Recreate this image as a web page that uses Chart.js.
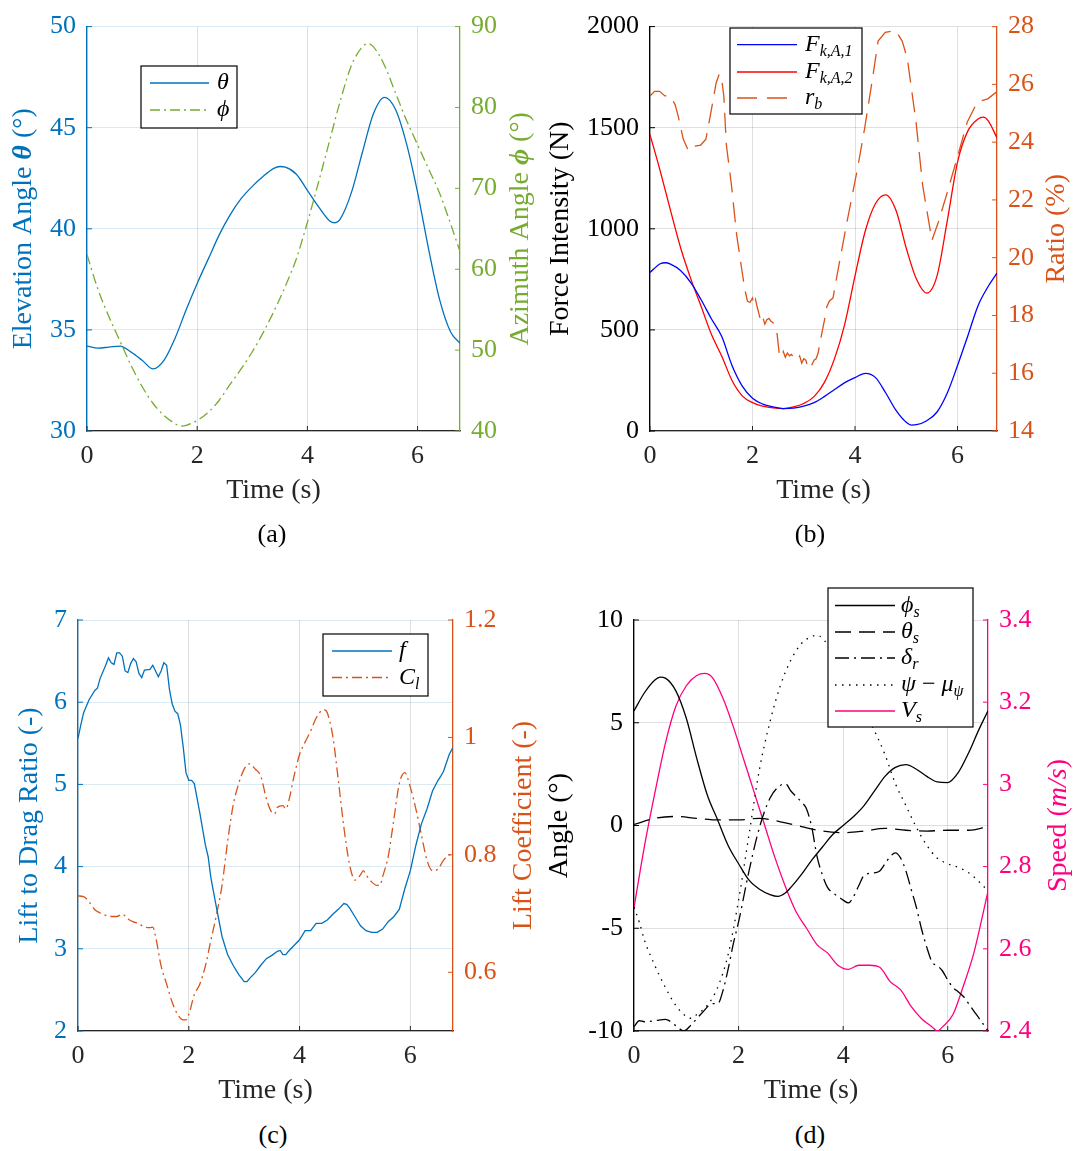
<!DOCTYPE html>
<html lang="en">
<head>
<meta charset="UTF-8">
<title>Flight figure</title>
<script src="https://cdn.jsdelivr.net/npm/chart.js@4.4.0/dist/chart.umd.min.js"></script>
<style>
  body { margin: 0; background: #fff; width: 1075px; height: 1151px; position: relative; overflow: hidden; font-family: "Liberation Serif", serif; }
  .panel { position: absolute; }
  .cap { position: absolute; font-size: 26px; color: #000; transform: translate(-50%, -50%); white-space: nowrap; }
</style>
</head>
<body>
<div class="panel" style="left:0;top:0"><canvas id="cA" width="545" height="520"></canvas></div>
<div class="panel" style="left:537px;top:0"><canvas id="cB" width="538" height="520"></canvas></div>
<div class="panel" style="left:0;top:580px"><canvas id="cC" width="545" height="540"></canvas></div>
<div class="panel" style="left:537px;top:580px"><canvas id="cD" width="538" height="540"></canvas></div>
<div class="cap" style="left:272px;top:534px">(a)</div>
<div class="cap" style="left:810px;top:534px">(b)</div>
<div class="cap" style="left:273px;top:1135px">(c)</div>
<div class="cap" style="left:810px;top:1135px">(d)</div>

<script>
// ---- (a) elevation / azimuth ----
var tTheta = [0, 0.2, 0.4, 0.6, 0.8, 1.0, 1.2, 1.4, 1.6, 1.8, 2.0, 2.2, 2.4, 2.6, 2.8, 3.0, 3.2, 3.4, 3.5, 3.6, 3.8, 4.0, 4.2, 4.4, 4.5, 4.6, 4.8, 5.0, 5.2, 5.4, 5.6, 5.8, 6.0, 6.2, 6.4, 6.6, 6.77];
var theta = [34.2, 34.1, 34.15, 34.2, 33.9, 33.5, 33.07, 33.5, 34.6, 36.0, 37.3, 38.5, 39.7, 40.7, 41.5, 42.1, 42.6, 43.0, 43.08, 43.05, 42.7, 41.9, 41.1, 40.4, 40.3, 40.5, 41.8, 43.8, 45.7, 46.5, 45.9, 44.2, 41.8, 39.0, 36.5, 34.9, 34.35];
var tPhi = [0, 0.2, 0.4, 0.6, 0.8, 1.0, 1.2, 1.4, 1.6, 1.7, 1.8, 2.0, 2.2, 2.4, 2.6, 2.8, 3.0, 3.2, 3.4, 3.6, 3.8, 4.0, 4.2, 4.4, 4.6, 4.8, 5.0, 5.1, 5.2, 5.4, 5.6, 5.8, 6.0, 6.2, 6.4, 6.6, 6.77];
var phi = [61.8, 57.5, 54.1, 51.1, 48.1, 45.5, 43.4, 41.9, 40.9, 40.6, 40.7, 41.3, 42.3, 43.8, 45.8, 47.7, 49.8, 52.2, 54.9, 57.9, 61.3, 65.8, 70.7, 75.8, 80.9, 85.2, 87.5, 87.9, 87.5, 85.2, 81.8, 78.4, 75.4, 72.4, 69.4, 65.6, 62.2];

// ---- (b) forces and ratio ----
var tF1 = [0, 0.2, 0.3, 0.4, 0.6, 0.8, 1.0, 1.2, 1.4, 1.6, 1.8, 2.0, 2.2, 2.4, 2.6, 2.8, 3.0, 3.2, 3.4, 3.6, 3.8, 4.0, 4.2, 4.4, 4.6, 4.8, 5.0, 5.1, 5.2, 5.4, 5.6, 5.8, 6.0, 6.2, 6.4, 6.6, 6.77];
var force1 = [784, 827, 832, 825, 793, 733, 648, 554, 467, 324, 222, 162, 133, 119, 111, 113, 123, 140, 170, 205, 239, 264, 285, 264, 188, 102, 43, 29, 31, 51, 94, 188, 324, 470, 620, 716, 781];
var tF2 = [0, 0.2, 0.4, 0.6, 0.8, 1.0, 1.2, 1.4, 1.6, 1.8, 2.0, 2.2, 2.4, 2.6, 2.8, 3.0, 3.2, 3.4, 3.6, 3.8, 4.0, 4.2, 4.4, 4.6, 4.8, 5.0, 5.2, 5.4, 5.6, 5.8, 6.0, 6.2, 6.4, 6.5, 6.6, 6.77];
var force2 = [1466, 1285, 1091, 904, 750, 614, 477, 370, 250, 174, 140, 123, 114, 111, 119, 136, 170, 239, 358, 529, 767, 989, 1125, 1168, 1091, 904, 750, 682, 767, 1040, 1330, 1483, 1543, 1552, 1534, 1449];
var tRb = [0, 0.09, 0.19, 0.29, 0.39, 0.49, 0.55, 0.65, 0.75, 0.85, 0.99, 1.09, 1.19, 1.29, 1.35, 1.39, 1.44, 1.49, 1.59, 1.69, 1.79, 1.85, 1.90, 1.95, 2.00, 2.03, 2.06, 2.09, 2.12, 2.16, 2.20, 2.24, 2.28, 2.32, 2.36, 2.40, 2.44, 2.48, 2.52, 2.56, 2.60, 2.64, 2.68, 2.72, 2.76, 2.80, 2.84, 2.88, 2.92, 2.96, 3.00, 3.04, 3.08, 3.12, 3.16, 3.20, 3.24, 3.28, 3.32, 3.40, 3.45, 3.50, 3.57, 3.65, 3.85, 4.05, 4.19, 4.35, 4.45, 4.59, 4.79, 4.92, 5.02, 5.19, 5.32, 5.50, 5.62, 5.79, 6.00, 6.19, 6.39, 6.59, 6.77];
var ratioB = [25.6, 25.76, 25.76, 25.6, 25.6, 25.3, 24.9, 24.1, 23.7, 23.85, 23.9, 24.1, 25.05, 26.05, 26.35, 26.3, 25.6, 23.9, 22.5, 20.8, 19.6, 18.9, 18.5, 18.45, 18.6, 18.35, 18.55, 18.3, 18.1, 17.8, 17.95, 17.7, 17.85, 17.9, 17.8, 17.75, 17.6, 17.35, 16.7, 16.55, 16.75, 16.55, 16.7, 16.6, 16.65, 16.55, 16.6, 16.5, 16.6, 16.35, 16.5, 16.45, 16.2, 16.15, 16.3, 16.45, 16.5, 16.7, 17.1, 17.8, 18.3, 18.5, 18.6, 19.4, 21.3, 23.1, 24.5, 26.3, 27.5, 27.8, 27.87, 27.5, 26.9, 24.7, 22.5, 20.6, 21.2, 22.2, 23.5, 24.7, 25.4, 25.5, 25.75];

// ---- (c) lift to drag, lift coefficient ----
var tF = [0, 0.05, 0.1, 0.2, 0.3, 0.35, 0.4, 0.5, 0.55, 0.6, 0.65, 0.7, 0.75, 0.8, 0.85, 0.9, 0.95, 1.0, 1.05, 1.1, 1.15, 1.2, 1.3, 1.35, 1.4, 1.45, 1.5, 1.55, 1.6, 1.65, 1.7, 1.75, 1.8, 1.85, 1.9, 1.95, 2.0, 2.05, 2.1, 2.2, 2.3, 2.35, 2.4, 2.5, 2.6, 2.7, 2.8, 2.9, 3.0, 3.05, 3.1, 3.2, 3.3, 3.4, 3.5, 3.6, 3.65, 3.7, 3.75, 3.8, 3.9, 4.0, 4.1, 4.2, 4.3, 4.4, 4.5, 4.6, 4.7, 4.8, 4.85, 4.9, 5.0, 5.1, 5.2, 5.3, 5.4, 5.5, 5.6, 5.7, 5.8, 5.9, 6.0, 6.1, 6.2, 6.3, 6.4, 6.5, 6.55, 6.6, 6.7, 6.77];
var liftDrag = [5.56, 5.72, 5.87, 6.03, 6.14, 6.17, 6.29, 6.45, 6.54, 6.48, 6.46, 6.60, 6.60, 6.56, 6.38, 6.36, 6.47, 6.53, 6.49, 6.35, 6.30, 6.39, 6.40, 6.45, 6.38, 6.31, 6.38, 6.48, 6.45, 6.16, 5.98, 5.89, 5.86, 5.72, 5.45, 5.14, 5.05, 5.05, 5.01, 4.65, 4.26, 4.12, 3.86, 3.50, 3.15, 2.93, 2.80, 2.69, 2.60, 2.60, 2.64, 2.71, 2.80, 2.88, 2.92, 2.97, 2.98, 2.93, 2.93, 2.97, 3.04, 3.11, 3.22, 3.22, 3.31, 3.31, 3.35, 3.42, 3.48, 3.55, 3.54, 3.50, 3.39, 3.28, 3.22, 3.20, 3.20, 3.24, 3.33, 3.39, 3.48, 3.73, 3.95, 4.26, 4.52, 4.70, 4.92, 5.05, 5.10, 5.16, 5.36, 5.45];
var tCl = [0, 0.1, 0.2, 0.3, 0.4, 0.5, 0.6, 0.7, 0.8, 0.9, 1.0, 1.1, 1.2, 1.3, 1.35, 1.4, 1.5, 1.6, 1.7, 1.8, 1.9, 1.95, 2.0, 2.1, 2.2, 2.3, 2.4, 2.5, 2.6, 2.7, 2.8, 2.9, 3.0, 3.1, 3.2, 3.3, 3.4, 3.5, 3.55, 3.6, 3.7, 3.75, 3.8, 3.9, 4.0, 4.1, 4.2, 4.3, 4.4, 4.45, 4.5, 4.6, 4.7, 4.8, 4.9, 5.0, 5.1, 5.15, 5.2, 5.3, 5.4, 5.45, 5.5, 5.6, 5.7, 5.8, 5.9, 6.0, 6.1, 6.2, 6.3, 6.4, 6.5, 6.6, 6.7, 6.77];
var liftCoef = [0.730, 0.729, 0.720, 0.707, 0.701, 0.697, 0.695, 0.695, 0.699, 0.691, 0.686, 0.683, 0.677, 0.676, 0.677, 0.661, 0.611, 0.580, 0.549, 0.528, 0.519, 0.519, 0.528, 0.562, 0.580, 0.611, 0.655, 0.698, 0.748, 0.822, 0.884, 0.921, 0.946, 0.955, 0.946, 0.934, 0.896, 0.872, 0.870, 0.881, 0.884, 0.878, 0.890, 0.934, 0.971, 0.992, 1.011, 1.033, 1.046, 1.047, 1.042, 1.002, 0.927, 0.847, 0.785, 0.757, 0.766, 0.773, 0.766, 0.754, 0.748, 0.748, 0.763, 0.797, 0.859, 0.921, 0.940, 0.915, 0.878, 0.834, 0.791, 0.773, 0.776, 0.791, 0.800, 0.802];

// ---- (d) angles and speed ----
var tPhiS = [0, 0.2, 0.4, 0.5, 0.6, 0.8, 1.0, 1.2, 1.4, 1.6, 1.8, 2.0, 2.2, 2.4, 2.6, 2.75, 2.9, 3.0, 3.2, 3.4, 3.6, 3.8, 4.0, 4.2, 4.4, 4.6, 4.8, 5.0, 5.2, 5.4, 5.6, 5.8, 6.0, 6.2, 6.4, 6.6, 6.77];
var phiS = [5.58, 6.46, 7.08, 7.22, 7.17, 6.55, 5.22, 3.27, 1.50, 0.27, -0.97, -1.86, -2.66, -3.10, -3.36, -3.45, -3.27, -3.01, -2.39, -1.68, -1.06, -0.44, 0.0, 0.44, 0.97, 1.68, 2.39, 2.83, 2.96, 2.74, 2.39, 2.12, 2.09, 2.57, 3.54, 4.69, 5.58];
var tThetaS = [0, 0.4, 0.8, 1.2, 1.6, 2.0, 2.4, 2.8, 3.2, 3.6, 4.0, 4.4, 4.8, 5.2, 5.6, 6.0, 6.4, 6.77];
var thetaS = [0.05, 0.35, 0.44, 0.35, 0.27, 0.27, 0.35, 0.18, -0.05, -0.27, -0.35, -0.27, -0.14, -0.23, -0.27, -0.23, -0.23, -0.05];
var tDelta = [0, 0.1, 0.2, 0.4, 0.6, 0.8, 0.95, 1.1, 1.3, 1.5, 1.6, 1.7, 1.8, 1.9, 2.0, 2.2, 2.4, 2.6, 2.8, 2.9, 3.0, 3.1, 3.2, 3.3, 3.4, 3.5, 3.6, 3.7, 3.8, 3.9, 4.0, 4.1, 4.2, 4.3, 4.4, 4.6, 4.7, 4.8, 4.9, 5.0, 5.1, 5.2, 5.3, 5.4, 5.5, 5.6, 5.7, 5.8, 5.9, 6.0, 6.1, 6.2, 6.3, 6.4, 6.5, 6.6, 6.77];
var deltaR = [-9.8, -9.5, -9.55, -9.5, -9.43, -9.74, -10.0, -9.68, -9.12, -8.67, -8.67, -8.05, -6.99, -5.75, -4.69, -2.21, -0.09, 1.33, 1.95, 2.03, 1.68, 1.41, 1.15, 0.80, -0.09, -1.5, -2.39, -3.01, -3.27, -3.45, -3.63, -3.77, -3.45, -2.92, -2.43, -2.30, -2.21, -1.86, -1.51, -1.33, -1.59, -2.21, -3.10, -3.98, -5.05, -5.93, -6.64, -6.82, -7.08, -7.52, -7.88, -8.09, -8.32, -8.67, -9.03, -9.38, -10.0];
var tPsi = [0, 0.1, 0.2, 0.4, 0.6, 0.8, 1.0, 1.1, 1.2, 1.4, 1.6, 1.8, 2.0, 2.2, 2.4, 2.6, 2.8, 3.0, 3.2, 3.4, 3.5, 3.6, 3.8, 4.0, 4.2, 4.4, 4.6, 4.8, 5.0, 5.2, 5.4, 5.6, 5.8, 6.0, 6.2, 6.4, 6.6, 6.77];
var psiMu = [-3.98, -4.69, -5.58, -6.82, -7.88, -8.76, -9.29, -9.38, -9.20, -8.76, -7.88, -6.28, -3.63, -0.44, 2.74, 5.04, 6.81, 8.05, 8.85, 9.20, 9.26, 9.12, 8.41, 7.6, 6.6, 5.6, 4.6, 3.45, 2.03, 0.97, -0.09, -0.97, -1.59, -1.86, -2.04, -2.30, -2.74, -3.19];
var tV = [0, 0.2, 0.4, 0.6, 0.8, 1.0, 1.2, 1.35, 1.5, 1.7, 1.9, 2.1, 2.3, 2.5, 2.7, 2.9, 3.1, 3.3, 3.5, 3.7, 3.9, 4.1, 4.3, 4.5, 4.7, 4.9, 5.1, 5.3, 5.5, 5.7, 5.8, 5.9, 6.1, 6.3, 6.5, 6.7, 6.77];
var speedV = [2.70, 2.85, 2.98, 3.10, 3.19, 3.24, 3.265, 3.27, 3.26, 3.21, 3.14, 3.06, 2.98, 2.90, 2.82, 2.75, 2.69, 2.65, 2.61, 2.59, 2.56, 2.55, 2.56, 2.56, 2.555, 2.52, 2.50, 2.46, 2.43, 2.41, 2.40, 2.41, 2.44, 2.51, 2.59, 2.70, 2.74];

var FONT = '"Liberation Serif", "Times New Roman", serif';
var DARK = '#262626';
var BLUE = '#0072BD', GREEN = '#77AC30', ORANGE = '#D95319', PINK = '#FF0080';
var GRID_GRAY = 'rgba(38,38,38,0.15)', GRID_BLUE = 'rgba(0,114,189,0.15)';

function pts(t, v) {
    var out = [];
    for (var i = 0; i < Math.min(t.length, v.length); i++) out.push({x: t[i], y: v[i]});
    return out;
}
function fmt(v) { return String(Math.round(v * 100) / 100); }

function line(data, color, axis, dash, smooth) {
    return {
        data: data, yAxisID: axis, borderColor: color, borderWidth: 1.3,
        borderDash: dash || [], pointRadius: 0, fill: false,
        cubicInterpolationMode: smooth ? 'monotone' : 'default', tension: 0
    };
}

function xAxis() {
    return {
        type: 'linear', min: 0, max: 6.77,
        grid: { color: GRID_GRAY, drawTicks: false },
        border: { color: DARK, width: 1.3 },
        ticks: { stepSize: 2, includeBounds: false, padding: 10, color: DARK, font: { family: FONT, size: 26 }, callback: fmt, autoSkip: false, maxRotation: 0 },
        title: { display: true, text: 'Time (s)', color: DARK, font: { family: FONT, size: 28 }, padding: { top: 0, bottom: 12.5 } },
        afterFit: function(s) { s.height = 89; }
    };
}

// axis titles are drawn by the overlay plugin (mixed italic parts, bottom-to-top on both sides)
function yAxis(o) {
    var right = o.pos === 'right';
    return {
        type: 'linear', position: o.pos, min: o.min, max: o.max,
        grid: { display: !right, color: o.grid, drawTicks: false },
        border: { color: o.color, width: 1.3 },
        ticks: { stepSize: o.step, includeBounds: false, padding: 11, color: o.color, font: { family: FONT, size: 26 }, callback: fmt, autoSkip: false },
        afterFit: function(s) { s.width = o.w; }
    };
}

function drawInTicks(chart) {
    var ctx = chart.ctx, a = chart.chartArea;
    ctx.save();
    ctx.lineWidth = 1;
    Object.keys(chart.scales).forEach(function(id) {
        var s = chart.scales[id];
        ctx.strokeStyle = s.options.border.color;
        s.ticks.forEach(function(tk) {
            var p = s.getPixelForValue(tk.value);
            ctx.beginPath();
            if (s.isHorizontal()) { ctx.moveTo(p, a.bottom); ctx.lineTo(p, a.bottom - 5); }
            else if (s.position === 'left') { ctx.moveTo(a.left, p); ctx.lineTo(a.left + 5, p); }
            else { ctx.moveTo(a.right, p); ctx.lineTo(a.right - 5, p); }
            ctx.stroke();
        });
    });
    ctx.restore();
}

function partFont(p, size) {
    return (p.it ? 'italic ' : '') + (p.bold ? 'bold ' : '') + size + 'px ' + FONT;
}

function drawLegend(chart, L) {
    var ctx = chart.ctx;
    ctx.save();
    ctx.fillStyle = '#fff';
    ctx.fillRect(L.box[0], L.box[1], L.box[2] - L.box[0], L.box[3] - L.box[1]);
    ctx.strokeStyle = '#000';
    ctx.lineWidth = 1.2;
    ctx.strokeRect(L.box[0], L.box[1], L.box[2] - L.box[0], L.box[3] - L.box[1]);
    L.items.forEach(function(it, i) {
        var ds = chart.data.datasets[it.ds], y = L.rows[i];
        ctx.strokeStyle = ds.borderColor;
        ctx.lineWidth = ds.borderWidth;
        ctx.setLineDash(ds.borderDash || []);
        ctx.beginPath(); ctx.moveTo(L.line[0], y); ctx.lineTo(L.line[1], y); ctx.stroke();
        ctx.setLineDash([]);
        var x = L.textX;
        ctx.fillStyle = '#000';
        ctx.textBaseline = 'middle';
        it.parts.forEach(function(p) {
            if (p.sub) {
                ctx.font = 'italic 16px ' + FONT;
                ctx.fillText(p.sub, x, y + 7);
                x += ctx.measureText(p.sub).width;
            } else {
                ctx.font = (p.up ? '' : 'italic ') + '24px ' + FONT;
                ctx.fillText(p.t, x, y);
                x += ctx.measureText(p.t).width;
            }
        });
    });
    ctx.restore();
}

function drawVTitle(chart, r) {
    var ctx = chart.ctx, a = chart.chartArea;
    ctx.save();
    ctx.translate(r.x, (a.top + a.bottom) / 2);
    ctx.rotate(-Math.PI / 2);
    ctx.fillStyle = r.color;
    ctx.textBaseline = 'middle';
    var total = 0;
    r.parts.forEach(function(p) { ctx.font = partFont(p, 28); total += ctx.measureText(p.t).width; });
    var x = -total / 2;
    r.parts.forEach(function(p) {
        ctx.font = partFont(p, 28);
        ctx.fillText(p.t, x, 0);
        x += ctx.measureText(p.t).width;
    });
    ctx.restore();
}

function overlay(spec) {
    return {
        id: 'overlay',
        afterDraw: function(chart) {
            drawInTicks(chart);
            drawLegend(chart, spec.legend);
            drawVTitle(chart, spec.left);
            drawVTitle(chart, spec.right);
        }
    };
}

function makeChart(id, top, datasets, yL, yR, spec) {
    new Chart(document.getElementById(id), {
        type: 'line',
        data: { datasets: datasets },
        options: {
            responsive: false, animation: false, events: [],
            layout: { padding: { top: top, left: 0, right: 0, bottom: 0 } },
            plugins: { legend: { display: false }, tooltip: { enabled: false } },
            scales: { x: xAxis(), yL: yL, yR: yR }
        },
        plugins: [overlay(spec)]
    });
}

// (a)
makeChart('cA', 20,
    [line(pts(tTheta, theta), BLUE, 'yL', [], true),
     line(pts(tPhi, phi), GREEN, 'yR', [10, 4, 2, 4], true)],
    yAxis({ pos: 'left', min: 30, max: 50, step: 5, color: BLUE, grid: GRID_BLUE, w: 87 }),
    yAxis({ pos: 'right', min: 40, max: 90, step: 10, color: GREEN, w: 85 }),
    { legend: { box: [141, 66, 237, 128], line: [150, 209], textX: 217, rows: [83, 110],
                items: [{ ds: 0, parts: [{ t: 'θ' }] }, { ds: 1, parts: [{ t: 'ϕ' }] }] },
      left: { x: 24, color: BLUE, parts: [{ t: 'Elevation Angle ' }, { t: 'θ', it: true, bold: true }, { t: ' (°)' }] },
      right: { x: 521, color: GREEN, parts: [{ t: 'Azimuth Angle ' }, { t: 'ϕ', it: true, bold: true }, { t: ' (°)' }] } });

// (b)
makeChart('cB', 20,
    [line(pts(tF1, force1), '#0000FF', 'yL', [], true),
     line(pts(tF2, force2), '#FF0000', 'yL', [], true),
     line(pts(tRb, ratioB), ORANGE, 'yR', [20, 10], false)],
    yAxis({ pos: 'left', min: 0, max: 2000, step: 500, color: '#000', grid: GRID_GRAY, w: 113 }),
    yAxis({ pos: 'right', min: 14, max: 28, step: 2, color: ORANGE, w: 78 }),
    { legend: { box: [193, 28, 325, 114], line: [200, 260], textX: 268, rows: [44.6, 72, 98],
                items: [{ ds: 0, parts: [{ t: 'F' }, { sub: 'k,A,1' }] },
                        { ds: 1, parts: [{ t: 'F' }, { sub: 'k,A,2' }] },
                        { ds: 2, parts: [{ t: 'r' }, { sub: 'b' }] }] },
      left: { x: 24, color: '#000', parts: [{ t: 'Force Intensity (N)' }] },
      right: { x: 520, color: ORANGE, parts: [{ t: 'Ratio (%)' }] } });

// (c)
makeChart('cC', 40,
    [line(pts(tF, liftDrag), BLUE, 'yL', [], false),
     line(pts(tCl, liftCoef), ORANGE, 'yR', [10, 4, 2, 4], true)],
    yAxis({ pos: 'left', min: 2, max: 7, step: 1, color: BLUE, grid: GRID_BLUE, w: 78 }),
    yAxis({ pos: 'right', min: 0.5, max: 1.2, step: 0.2, color: ORANGE, w: 92 }),
    { legend: { box: [323, 54, 428, 116], line: [332, 392], textX: 399, rows: [71, 97.5],
                items: [{ ds: 0, parts: [{ t: 'f' }] }, { ds: 1, parts: [{ t: 'C' }, { sub: 'l' }] }] },
      left: { x: 30, color: BLUE, parts: [{ t: 'Lift to Drag Ratio (-)' }] },
      right: { x: 524, color: ORANGE, parts: [{ t: 'Lift Coefficient (-)' }] } });

// (d)
makeChart('cD', 40,
    [line(pts(tPhiS, phiS), '#000', 'yL', [], true),
     line(pts(tThetaS, thetaS), '#000', 'yL', [16, 8], true),
     line(pts(tDelta, deltaR), '#000', 'yL', [14, 5, 2, 5], true),
     line(pts(tPsi, psiMu), '#000', 'yL', [1.5, 5.5], true),
     line(pts(tV, speedV), PINK, 'yR', [], true)],
    yAxis({ pos: 'left', min: -10, max: 10, step: 5, color: '#000', grid: GRID_GRAY, w: 97 }),
    yAxis({ pos: 'right', min: 2.4, max: 3.4, step: 0.2, color: PINK, w: 87 }),
    { legend: { box: [291, 8, 436, 147], line: [298, 358], textX: 364, rows: [25.5, 52, 78, 105, 131],
                items: [{ ds: 0, parts: [{ t: 'ϕ' }, { sub: 's' }] },
                        { ds: 1, parts: [{ t: 'θ' }, { sub: 's' }] },
                        { ds: 2, parts: [{ t: 'δ' }, { sub: 'r' }] },
                        { ds: 3, parts: [{ t: 'ψ' }, { t: ' − ', up: true }, { t: 'μ' }, { sub: 'ψ' }] },
                        { ds: 4, parts: [{ t: 'V' }, { sub: 's' }] }] },
      left: { x: 23, color: '#000', parts: [{ t: 'Angle (°)' }] },
      right: { x: 521.5, color: PINK, parts: [{ t: 'Speed (' }, { t: 'm/s', it: true }, { t: ')' }] } });
</script>
</body>
</html>
